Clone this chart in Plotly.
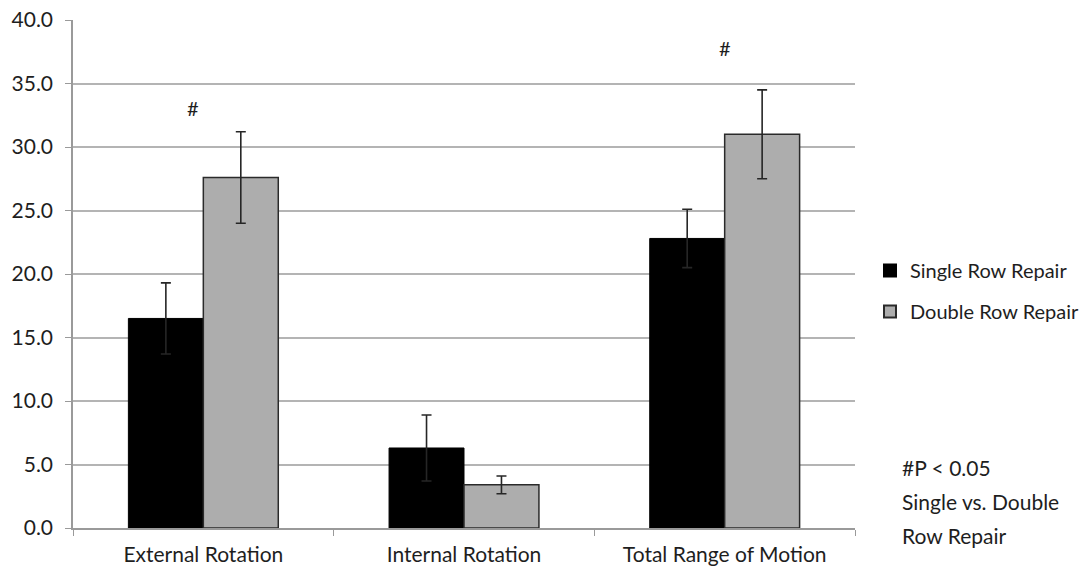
import plotly.graph_objects as go

categories = ["External Rotation", "Internal Rotation", "Total Range of Motion"]
single_vals = [16.5, 6.3, 22.8]
single_err = [2.8, 2.6, 2.3]
double_vals = [27.6, 3.4, 31.0]
double_err = [3.6, 0.7, 3.5]
sig_cats = ["External Rotation", "Total Range of Motion"]
sig_y = [33.1, 37.8]
y_ticks = [0, 5, 10, 15, 20, 25, 30, 35, 40]
y_tick_labels = ["0.0", "5.0", "10.0", "15.0", "20.0", "25.0", "30.0", "35.0", "40.0"]
note_lines = ["#P < 0.05", "Single vs. Double", "Row Repair"]

FONT = "Lato, Open Sans, sans-serif"
TXT = "#1e1e1e"

fig = go.Figure()
fig.add_trace(go.Bar(
    name="Single Row Repair", x=categories, y=single_vals, legendgroup="a",
    marker=dict(color="#000000", line=dict(color="#000000", width=1)),
    error_y=dict(type="data", array=single_err, symmetric=True,
                 color="#262626", thickness=1.6, width=5),
))
fig.add_trace(go.Bar(
    name="Double Row Repair", x=categories, y=double_vals, legendgroup="b",
    marker=dict(color="#adadad", line=dict(color="#2a2a2a", width=1.5)),
    error_y=dict(type="data", array=double_err, symmetric=True,
                 color="#262626", thickness=1.6, width=5),
))

for c, yv in zip(sig_cats, sig_y):
    fig.add_annotation(x=c, y=yv, xref="x", yref="y", text="#", showarrow=False,
                       xshift=-10 if c == "External Rotation" else 0,
                       font=dict(size=20, color=TXT, family=FONT))

for i, line in enumerate(note_lines):
    fig.add_annotation(x=(900 - 73) / 782, xref="paper", y=(528 - 467 - 34 * i) / 508, yref="paper",
                       text=line, showarrow=False, xanchor="left", yanchor="middle",
                       font=dict(size=21, color=TXT, family=FONT))

fig.update_layout(
    width=1087, height=572,
    margin=dict(l=73, r=232, t=20, b=44, autoexpand=False),
    paper_bgcolor="white", plot_bgcolor="white",
    barmode="group", bargap=0.425, bargroupgap=0,
    font=dict(family=FONT, size=21, color=TXT),
    showlegend=True,
    legend=dict(xref="container", yref="container", x=870 / 1087, y=1 - 291 / 572,
                xanchor="left", yanchor="middle",
                font=dict(size=20, family=FONT, color=TXT),
                traceorder="grouped", tracegroupgap=12, itemsizing="constant"),
    xaxis=dict(showline=True, linecolor="#9a9a9a", linewidth=1.5, automargin=False,
               ticks="outside", tickson="boundaries", ticklen=6, tickcolor="#9a9a9a",
               ticklabelstandoff=7,
               showgrid=False, tickfont=dict(size=21)),
    yaxis=dict(range=[0, 40], tickvals=y_ticks, ticktext=y_tick_labels, automargin=False,
               showline=True, linecolor="#9a9a9a", linewidth=1.5,
               ticks="outside", ticklen=6, tickcolor="#9a9a9a",
               ticklabelstandoff=8,
               showgrid=True, gridcolor="#b4b4b4", gridwidth=2,
               zeroline=False, tickfont=dict(size=21)),
)

fig.write_html("out.html", config={"displayModeBar": False},
               post_script="document.body.style.margin='0';document.body.style.padding='0';")
